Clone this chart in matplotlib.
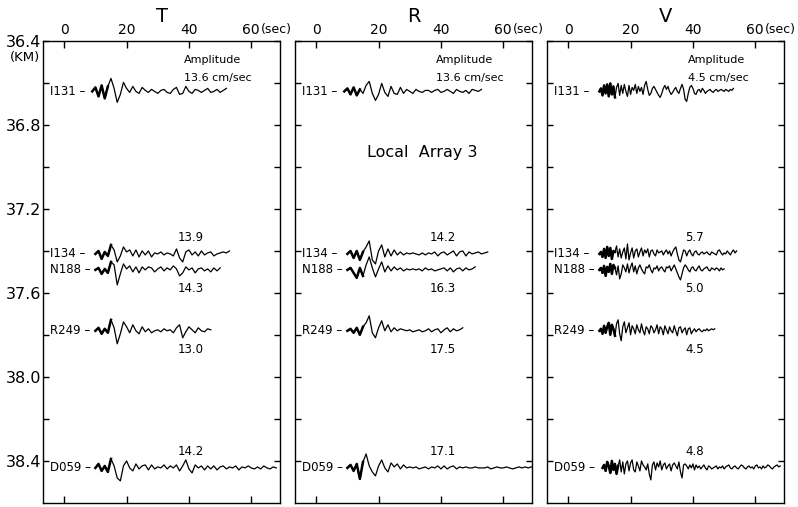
import numpy as np
import matplotlib.pyplot as plt

# stations, their depth positions (km) and the three components
STATIONS = ["I131", "I134", "N188", "R249", "D059"]
DEPTHS = [36.64, 37.414, 37.49, 37.78, 38.433]
COMPONENTS = ["T", "R", "V"]

# peak amplitudes printed next to each trace (cm/sec)
AMP_T = ["13.6", "13.9", "14.3", "13.0", "14.2"]
AMP_R = ["13.6", "14.2", "16.3", "17.5", "17.1"]
AMP_V = ["4.5", "5.7", "5.0", "4.5", "4.8"]

# trace start times (sec) and sample steps (sec)
START_T = [9, 10, 10, 10, 10]
START_R = [9, 10, 10, 10, 10]
START_V = [10, 10, 10, 10, 11]
STEP_T = 1.0
STEP_R = 1.0
STEP_V = 0.5

# waveforms (deflection, pixels, up positive)
T_I131 = [0, 4, -5, 6, -7, 5, 13, 3, -11, -3, 9, 3, -1, 5, 0, -2, 4, 1, -1, 2,
          0, -2, 1, 2, -1, -2, 2, 4, -3, -2, 5, 0, -2, 2, 1, -1, 1, 3, -1, 0,
          2, -1, 1, 3]
T_I134 = [0, 3, -5, 2, -2, 9, 4, -8, -2, 7, 2, 4, -2, 4, -3, 3, -1, 3, -3, 1,
          0, 2, -1, 1, 0, -2, 5, -4, -8, 2, 4, -1, 2, -2, 3, -1, 1, 2, -2, 0,
          1, 2, 1, 3]
T_N188 = [0, 2, -4, 1, -3, 8, 5, -15, -4, 6, 1, 4, -2, 3, -3, 3, 0, 3, 2, -2,
          1, 3, -1, 2, 0, 4, 1, -6, -3, 3, 0, 2, -3, 1, 2, -1, 1, -2, 2, -1, 2]
T_R249 = [0, 3, -3, 2, -2, 11, 3, -13, -3, 9, 4, -2, 6, 0, -3, 4, -1, 2, -2, 0,
          1, -1, 2, 0, 1, -2, 3, 6, -7, -1, 4, 1, -2, 3, 0, -1, 2, 1]
T_D059 = [0, 4, -3, 2, -4, 9, 2, -10, -13, 2, 7, 0, -3, 4, -1, 2, 3, -2, 3, -1,
          1, 0, 3, -1, 2, 0, 3, -3, 2, 8, -1, -5, 3, 0, 2, -2, 2, -1, 2, -2,
          1, 2, -1, 1, 0, 2, -2, 1, 0, 2, 0, -1, 1, -1, 2, 0, -1, 1, 0]

R_I131 = [0, 3, -3, 4, -4, 2, -2, 6, 10, -2, -9, -3, 8, -1, -5, 5, -2, -3, 4, -2,
          2, 0, -2, 2, 0, -1, 1, 1, -1, 1, 2, -1, 0, 2, 0, -2, 2, 0, -1, 1,
          -2, 2, 1, 0, 2]
R_I134 = [0, 3, -4, 3, -6, 2, 7, 13, -6, -10, 3, 9, -3, 5, -2, 4, -1, 2, -1, 1,
          0, 1, 0, -1, 1, -1, 1, 0, 2, -2, 1, 2, -1, 1, 3, -2, 2, 3, -2, 2,
          0, 1, 2, 0, 1, 2]
R_N188 = [0, 2, -3, -8, 2, -6, 5, 13, 2, -7, 1, 8, -2, 4, -1, 3, 0, 2, -1, 1,
          0, 1, 0, 1, -1, 2, 0, 1, -1, 0, 1, 2, -1, 2, -2, 1, 2, -1, 2, 0,
          1, 3]
R_R249 = [0, 2, -2, 3, -4, 4, 8, 15, -2, -7, 3, 10, 0, 6, -1, 3, 0, 2, 1, 0,
          1, -1, 0, 1, -1, 0, 2, -1, 1, 2, -2, 1, 3, -1, 2, 0, 1, 3]
R_D059 = [0, 3, -3, 4, -11, 6, 14, 2, -4, -8, 2, 8, 0, -4, 5, 1, 4, -1, 3, 0,
          1, 0, 1, -1, 0, 1, -1, 1, 0, 2, -1, 2, -1, 1, 2, -1, 1, 0, 1, 0,
          0, 1, 0, 0, 0, 1, -1, 0, 1, 0, 0, 1, 0, -1, 0, 1, 0, 1, 0, 1]

V_I131 = [0, 3, -4, 6, -2, 7, -5, 8, -3, 5, -6, 4, 8, -4, 6, -2, 7, 0, -5, 6,
          -3, 4, 1, 7, -2, 5, 0, 4, -3, 6, 10, 2, -4, -2, 3, 5, 2, -1, -4, -6,
          -2, 3, 6, 2, 5, 0, -3, -1, 2, 4, 0, -2, 3, 7, 2, -8, -10, -2, 4, 6,
          3, -2, -3, 1, 2, -1, 3, 1, -2, 0, 1, 2, 0, -1, 1, 2, 0, 1, 2, 1,
          0, 2, 1, 0, 2, 1, 3]
V_I134 = [0, 2, -3, 5, -4, 7, -2, 6, -5, 3, 2, 8, -3, 5, -4, 2, 6, -5, 10, -6,
          1, 6, -4, 3, 5, -3, 2, 6, -2, 4, 1, 5, -3, 3, 4, 0, -2, 4, 1, 2,
          3, -1, 2, 4, 0, 3, -2, 2, 5, 7, 0, -6, -8, -2, 4, 3, -2, 2, 4, 0,
          -2, 2, 3, 0, -1, 1, 2, 0, 1, 2, 0, -1, 2, 1, 0, -1, 3, 4, 1, -1,
          1, 0, 3, 1, -1, 2, 4, 1, 3]
V_N188 = [0, 2, -3, 4, -6, 3, -2, 6, -4, 5, 2, -5, 4, -9, -4, 5, 2, -2, 6, -3,
          3, 7, -2, 4, -4, 2, 5, 1, -2, -4, 3, 2, 5, 0, -3, 2, 1, 4, -1, 2,
          3, 0, -2, 3, 2, 4, -1, 2, 5, 1, -3, -7, -10, -4, 2, 5, 3, 0, -2, 2,
          3, 0, -1, 2, 4, 0, -1, 1, 2, 3, 0, -1, 2, 1, 0, 2, 1, -1, 2, 0, 1]
V_R249 = [0, 2, -3, 5, -2, 4, 8, -4, 6, 2, -5, 7, 11, -3, -10, 4, 9, -2, 3, 8,
          -4, 5, 2, -3, 6, 1, -2, 7, 0, -4, 4, 2, -3, 5, 3, -2, 1, 6, -3, 4,
          2, -4, 5, 1, -3, 4, 0, -2, 5, 0, -5, 3, 4, -2, 1, 3, -4, 2, 3, -3,
          0, 2, -1, 1, 2, 0, -1, 1, 0, 2, 0, 1, 2, 1, 2]
V_D059 = [0, 3, -3, 6, 2, -5, 7, -2, 4, -6, 2, 8, -4, 6, -6, 4, 7, -3, 5, 8,
          -2, -4, 6, 2, -3, 7, 3, 1, -2, 4, -6, -12, 3, 6, -2, 5, 1, 7, -2, 3,
          5, -1, 2, 4, -3, 3, 5, 2, -1, 6, -4, -10, 3, 4, 2, -1, 3, 0, 4, -2,
          3, 0, 2, -1, 1, 3, 0, -2, 2, 1, -1, 0, 1, 2, -1, 1, 0, 2, -1, 1,
          2, 3, 0, -1, 1, 2, 0, -1, 1, 3, 2, 0, -1, 1, 2, 0, 1, -1, 2, 3,
          0, 1, -1, 2, 0, 1, 3, 2, 0, -1, 1, 2, 3, 1, 2]

TRACES = {
    "T": [T_I131, T_I134, T_N188, T_R249, T_D059],
    "R": [R_I131, R_I134, R_N188, R_R249, R_D059],
    "V": [V_I131, V_I134, V_N188, V_R249, V_D059],
}
STARTS = {"T": START_T, "R": START_R, "V": START_V}
STEPS = {"T": STEP_T, "R": STEP_R, "V": STEP_V}
AMPS = {"T": AMP_T, "R": AMP_R, "V": AMP_V}

GAIN = 1 / 210.0      # km of plot per pixel of deflection
THICK_SEC = 5.0       # early part of each trace is drawn heavier
FONT = "DejaVu Sans"

fig = plt.figure(figsize=(7.98, 5.07), dpi=100)
W, H = 798, 507

for i, comp in enumerate(COMPONENTS):
    left = 43 + 252 * i
    ax = fig.add_axes([left / W, 4 / H, 237 / W, 462 / H])
    ax.set_xlim(-6.8, 69.2)
    ax.set_ylim(38.6, 36.4)
    for sp in ax.spines.values():
        sp.set_linewidth(1.0)

    ax.set_xticks([0, 20, 40, 60])
    ax.set_xticklabels(["0", "20", "40", "60"], fontsize=10, family=FONT)
    ax.tick_params(axis="x", which="both", direction="in", top=True, bottom=True,
                   labeltop=True, labelbottom=False, length=5, width=1.0, pad=3)
    ax.annotate("(sec)", xy=(60, 36.4), xytext=(7, 3.5), textcoords="offset points",
                ha="left", va="bottom", fontsize=9, family=FONT, annotation_clip=False)

    yt = np.round(np.arange(36.4, 38.5, 0.2), 1)
    ax.set_yticks(yt)
    ax.tick_params(axis="y", direction="in", left=True, right=True,
                   length=4, width=1.0, pad=1)
    if i == 0:
        ax.set_yticklabels([f"{v:.1f}" if k % 2 == 0 else "" for k, v in enumerate(yt)],
                           fontsize=11.5, family=FONT)
        ax.text(-0.012, 36.478, "(KM)", transform=ax.get_yaxis_transform(),
                ha="right", va="center", fontsize=9.5, family=FONT)
    else:
        ax.set_yticklabels([])

    ax.text(0.5, 1.054, comp, transform=ax.transAxes, ha="center", va="center",
            fontsize=14, family=FONT)

    step = STEPS[comp]
    for k, name in enumerate(STATIONS):
        vals = np.asarray(TRACES[comp][k], dtype=float)
        t = STARTS[comp][k] + step * np.arange(len(vals))
        y = DEPTHS[k] - vals * GAIN
        ax.plot(t, y, color="black", lw=0.9, solid_joinstyle="round")
        early = t <= t[0] + THICK_SEC
        ax.plot(t[early], y[early], color="black", lw=1.8, solid_joinstyle="round")

        ax.text(-4.6, DEPTHS[k], f"{name} \u2013", ha="left", va="center",
                fontsize=8.5, family=FONT)

        amp = AMPS[comp][k]
        if k == 0:
            ax.annotate("Amplitude", xy=(38.5, DEPTHS[k]), xytext=(0, 22.5),
                        textcoords="offset points", ha="left", va="center",
                        fontsize=8, family=FONT)
            ax.annotate(f"{amp} cm/sec", xy=(38.3, DEPTHS[k]), xytext=(0, 9.5),
                        textcoords="offset points", ha="left", va="center",
                        fontsize=8, family=FONT)
        else:
            dy = 11.5 if k in (1, 4) else -13.5
            ax.annotate(amp, xy=(40.5, DEPTHS[k]), xytext=(0, dy),
                        textcoords="offset points", ha="center", va="center",
                        fontsize=8.5, family=FONT)

    if comp == "R":
        ax.text(34, 36.93, "Local  Array 3", ha="center", va="center",
                fontsize=11.5, family=FONT)

fig.savefig("out.png", dpi=100)
